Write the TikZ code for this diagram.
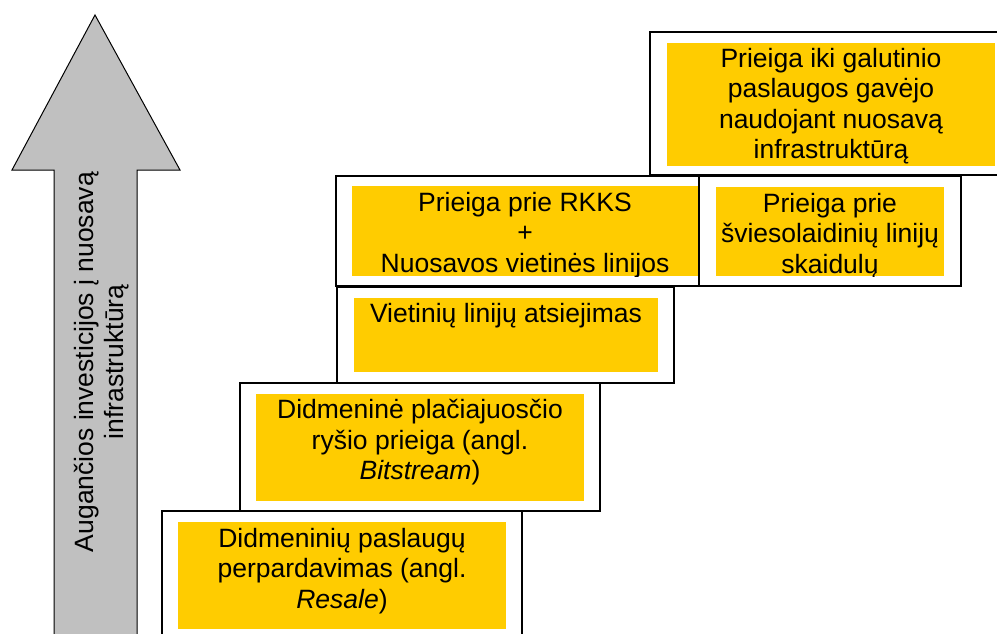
\documentclass[tikz,border=0pt]{standalone}
\usepackage{fontspec}
\setmainfont{Liberation Sans}
\definecolor{gold}{HTML}{FFCC00}
\definecolor{arrowgray}{HTML}{C0C0C0}
\begin{document}
\begin{tikzpicture}[x=1pt,y=-1pt,
  outerbox/.style={draw=black, fill=white, line width=1.6pt, inner sep=0pt, minimum width=#1},
  yellowbox/.style={fill=gold, draw=none, inner sep=0pt, minimum width=#1},
  label/.style={anchor=north, inner sep=0pt, align=center, text=black,
    font=\fontsize{26.5}{30.5}\selectfont}]
\useasboundingbox (0,0) rectangle (997,633);
\clip (0,0) rectangle (997,633);
\fill[white] (0,0) rectangle (997,633);

% big arrow
\draw[fill=arrowgray, line width=1pt, line join=miter]
  (95,15) -- (180,170) -- (137,170) -- (137,660) -- (54,660) -- (54,170) -- (12,170) -- cycle;
\node[label, rotate=90] (arrowtext) at (74,362)
  {Augančios investicijos į nuosavą\\infrastruktūrą};

% F: top right
\node[outerbox=360pt, minimum height=143pt] (Fo) at (830,103.5) {};
\node[yellowbox=328pt, minimum height=123pt] (Fy) at (831,104.5) {};
\begin{scope}
\clip (Fy.south west) rectangle (Fy.north east);
\node[label] (Ft) at (831,48) {Prieiga iki galutinio\\paslaugos gavėjo\\naudojant nuosavą\\infrastruktūrą};
\end{scope}

% D: RKKS
\node[outerbox=384pt, minimum height=110pt] (Do) at (528,231) {};
\node[yellowbox=358pt, minimum height=90pt] (Dy) at (531,231) {};
\begin{scope}
\clip (Dy.south west) rectangle (Dy.north east);
\node[label] (Dt) at (525,192) {Prieiga prie RKKS\\+\\Nuosavos vietinės linijos};
\end{scope}

% E: šviesolaidinių
\node[outerbox=262pt, minimum height=110pt] (Eo) at (830,231) {};
\node[yellowbox=228pt, minimum height=89pt] (Ey) at (830,231.5) {};
\begin{scope}
\clip (Ey.south west) rectangle (Ey.north east);
\node[label] (Et) at (830,193) {Prieiga prie\\šviesolaidinių linijų\\skaidulų};
\end{scope}

% C: Vietinių
\node[outerbox=337pt, minimum height=96pt] (Co) at (505.5,335) {};
\node[yellowbox=304pt, minimum height=74pt] (Cy) at (506,335) {};
\node[label] (Ct) at (506,303) {Vietinių linijų atsiejimas};

% B: Bitstream
\node[outerbox=360pt, minimum height=128pt] (Bo) at (420,447) {};
\node[yellowbox=328pt, minimum height=107pt] (By) at (420,447.5) {};
\node[label] (Bt) at (420,399) {Didmeninė plačiajuosčio\\ryšio prieiga (angl.\\\textit{Bitstream})};

% A: Resale
\node[outerbox=360pt, minimum height=149pt] (Ao) at (342,585.5) {};
\node[yellowbox=328pt, minimum height=107pt] (Ay) at (342,575.5) {};
\node[label] (At) at (342,528) {Didmeninių paslaugų\\perpardavimas (angl.\\\textit{Resale})};
\end{tikzpicture}
\end{document}
